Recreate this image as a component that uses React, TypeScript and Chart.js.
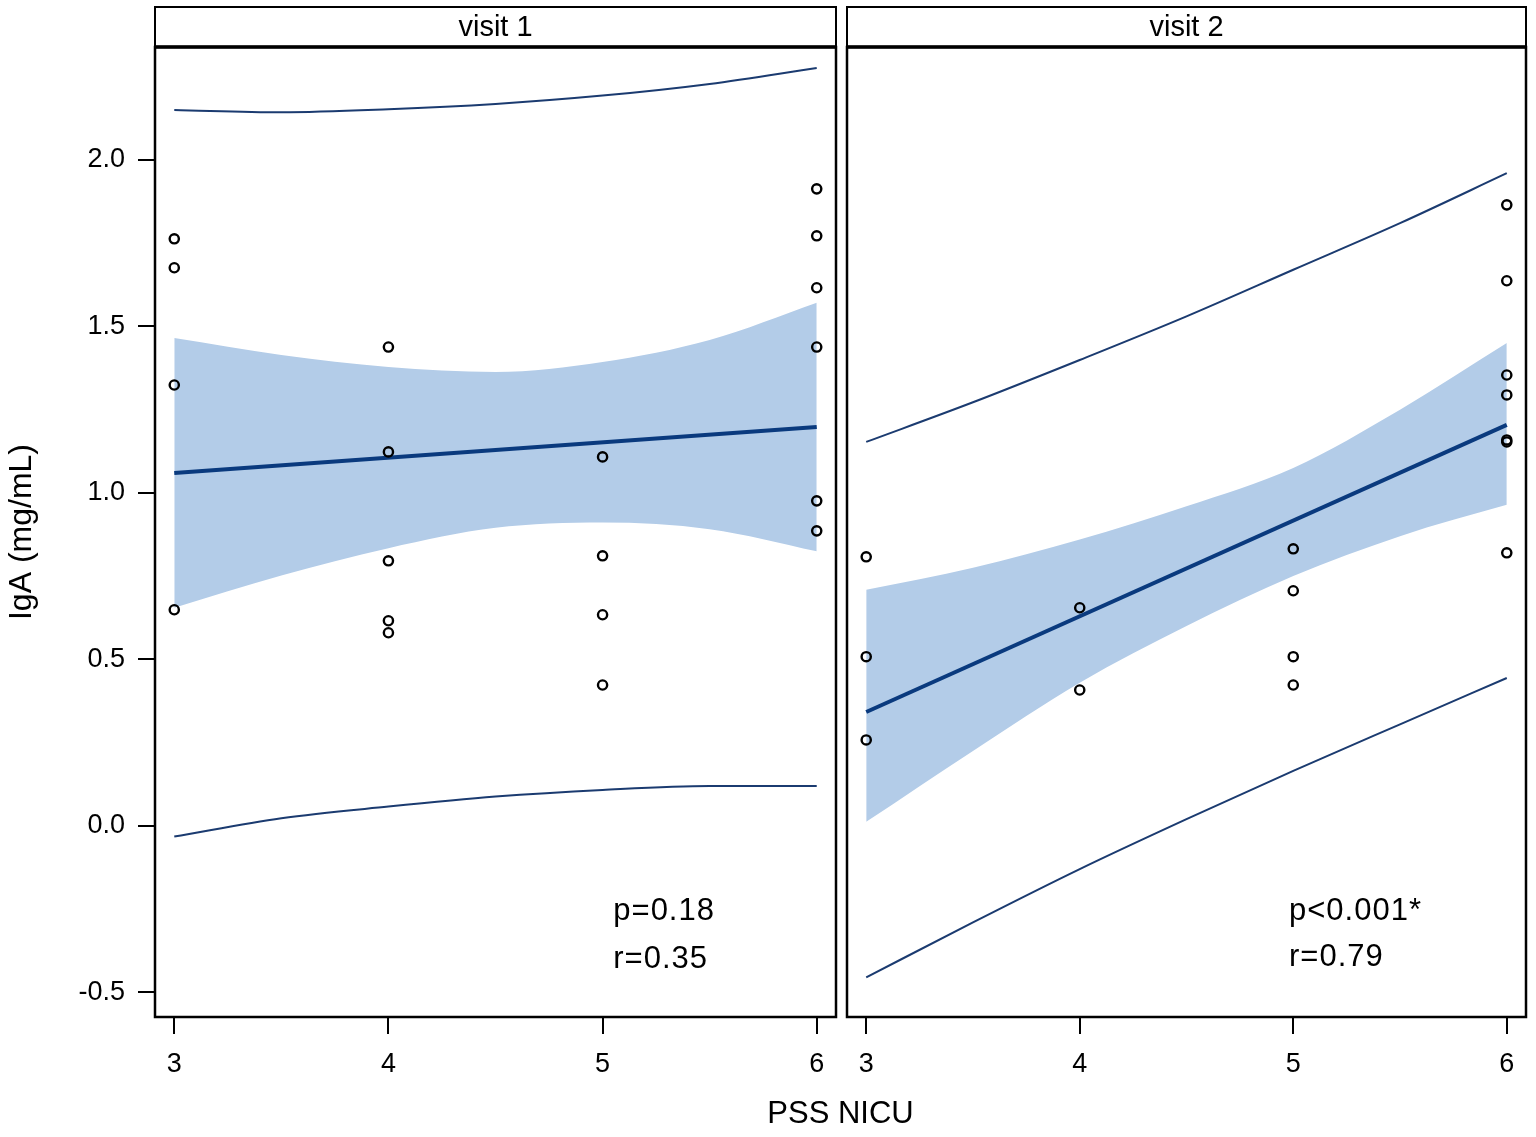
import React, { useEffect, useRef } from "react";
import { Chart, registerables } from "chart.js";

Chart.register(...registerables);

const FONT = "'Liberation Sans', Arial, Helvetica, sans-serif";

// Axes
const xTicks = [3, 4, 5, 6];
const yTicks = [-0.5, 0, 0.5, 1.0, 1.5, 2.0];
const xMin = 2.91;
const xMax = 6.09;
const yMin = -0.574;
const yMax = 2.339;
const yTitle = "IgA (mg/mL)";
const xTitle = "PSS NICU";
const panelTitles = ["visit 1", "visit 2"];

// Observations, visit 1
const v1Score = [3, 3, 3, 3, 4, 4, 4, 4, 4, 5, 5, 5, 5, 6, 6, 6, 6, 6, 6];
const v1IgA = [1.763, 1.676, 1.324, 0.649, 1.438, 1.123, 0.796, 0.616, 0.58, 1.108, 0.811, 0.634, 0.423, 1.913, 1.772, 1.616, 1.438, 0.976, 0.886];

// Observations, visit 2
const v2Score = [3, 3, 3, 4, 4, 5, 5, 5, 5, 6, 6, 6, 6, 6, 6, 6];
const v2IgA = [0.808, 0.508, 0.258, 0.655, 0.408, 0.832, 0.706, 0.508, 0.423, 1.865, 1.637, 1.354, 1.294, 1.159, 1.153, 0.82];

// Fit / confidence / prediction curves (read at these x values)
const curveX = [3, 3.5, 4, 4.5, 5, 5.5, 6];
const fitX = [3, 6];

const v1Fit = [1.06, 1.198];
const v1ClUpper = [1.465, 1.414, 1.378, 1.363, 1.393, 1.459, 1.571];
const v1ClLower = [0.655, 0.752, 0.834, 0.895, 0.911, 0.891, 0.825];
const v1PredUpper = [2.15, 2.143, 2.152, 2.168, 2.193, 2.228, 2.276];
const v1PredLower = [-0.032, 0.023, 0.058, 0.088, 0.108, 0.12, 0.12];

const v2Fit = [0.342, 1.204];
const v2ClUpper = [0.709, 0.775, 0.86, 0.96, 1.075, 1.25, 1.45];
const v2ClLower = [0.012, 0.225, 0.43, 0.6, 0.75, 0.87, 0.964];
const v2PredUpper = [1.153, 1.272, 1.399, 1.53, 1.67, 1.81, 1.96];
const v2PredLower = [-0.455, -0.29, -0.13, 0.02, 0.165, 0.305, 0.444];

// Statistics text
const v1Stats = ["p=0.18", "r=0.35"];
const v2Stats = ["p<0.001*", "r=0.79"];

// Where the stats text sits (data units)
const statsAnchor1 = { x: 5.05, y: [-0.258, -0.402] };
const statsAnchor2 = { x: 4.98, y: [-0.258, -0.396] };

const BAND = "#b3cce8";
const FIT = "#0a3a7e";
const PRED = "#1b3b70";

const zip = (xs: number[], ys: number[]) => xs.map((x, i) => ({ x, y: ys[i] }));

function buildConfig(opts: {
  title: string;
  scores: number[];
  values: number[];
  fit: number[];
  clU: number[];
  clL: number[];
  pU: number[];
  pL: number[];
  stats: string[];
  anchor: { x: number; y: number[] };
  showY: boolean;
  padLeft: number;
  padRight: number;
}): any {
  const panelPlugin = {
    id: "panelFrame" + opts.title.replace(/\s/g, ""),
    afterDraw(chart: any) {
      const { ctx, chartArea } = chart;
      const { left, right, top, bottom } = chartArea;
      ctx.save();
      ctx.strokeStyle = "#000";
      ctx.lineWidth = 2.5;
      ctx.strokeRect(left, top, right - left, bottom - top);
      // strip header
      ctx.lineWidth = 2;
      ctx.strokeRect(left, 7, right - left, top - 7);
      ctx.lineWidth = 3.5;
      ctx.beginPath();
      ctx.moveTo(left, top);
      ctx.lineTo(right, top);
      ctx.stroke();
      ctx.fillStyle = "#000";
      ctx.font = `29px ${FONT}`;
      ctx.textAlign = "center";
      ctx.textBaseline = "middle";
      ctx.fillText(opts.title, (left + right) / 2, 28);
      // stats
      const xs = chart.scales.x;
      const ys = chart.scales.y;
      ctx.font = `31px ${FONT}`;
      try {
        (ctx as any).letterSpacing = "1px";
      } catch (e) {}
      ctx.textAlign = "left";
      opts.stats.forEach((s, i) => {
        ctx.fillText(s, xs.getPixelForValue(opts.anchor.x), ys.getPixelForValue(opts.anchor.y[i]));
      });
      ctx.restore();
    },
  };

  return {
    type: "line",
    data: {
      datasets: [
        {
          label: "obs",
          data: zip(opts.scores, opts.values),
          showLine: false,
          pointRadius: 4.6,
          pointBorderWidth: 2.4,
          pointBorderColor: "#000",
          pointBackgroundColor: "rgba(0,0,0,0)",
        },
        {
          label: "fit",
          data: zip(fitX, opts.fit),
          borderColor: FIT,
          borderWidth: 4,
          pointRadius: 0,
          fill: false,
        },
        {
          label: "predU",
          data: zip(curveX, opts.pU),
          borderColor: PRED,
          borderWidth: 2,
          pointRadius: 0,
          cubicInterpolationMode: "monotone",
          fill: false,
        },
        {
          label: "predL",
          data: zip(curveX, opts.pL),
          borderColor: PRED,
          borderWidth: 2,
          pointRadius: 0,
          cubicInterpolationMode: "monotone",
          fill: false,
        },
        {
          label: "clU",
          data: zip(curveX, opts.clU),
          borderWidth: 0,
          borderColor: "rgba(0,0,0,0)",
          backgroundColor: BAND,
          pointRadius: 0,
          cubicInterpolationMode: "monotone",
          fill: "+1",
        },
        {
          label: "clL",
          data: zip(curveX, opts.clL),
          borderWidth: 0,
          borderColor: "rgba(0,0,0,0)",
          pointRadius: 0,
          cubicInterpolationMode: "monotone",
          fill: false,
        },
      ],
    },
    options: {
      animation: false,
      responsive: true,
      maintainAspectRatio: false,
      layout: { padding: { left: opts.padLeft, right: opts.padRight, top: 47, bottom: 0 } },
      plugins: {
        legend: { display: false },
        tooltip: { enabled: false },
      },
      events: [],
      scales: {
        x: {
          type: "linear",
          min: xMin,
          max: xMax,
          afterBuildTicks: (scale: any) => {
            scale.ticks = xTicks.map((v) => ({ value: v }));
          },
          afterFit: (scale: any) => {
            scale.height = 120;
          },
          ticks: {
            color: "#000",
            font: { family: FONT, size: 27 },
            padding: 14,
            maxRotation: 0,
            autoSkip: false,
            callback: (v: any) => String(v),
          },
          grid: {
            drawOnChartArea: false,
            drawTicks: true,
            tickLength: 17,
            color: "#000",
            lineWidth: 2,
          },
          border: { display: false },
        },
        y: {
          type: "linear",
          display: opts.showY,
          min: yMin,
          max: yMax,
          afterBuildTicks: (scale: any) => {
            scale.ticks = yTicks.map((v) => ({ value: v }));
          },
          afterFit: (scale: any) => {
            if (opts.showY) scale.width = 155;
          },
          ticks: {
            color: "#000",
            font: { family: FONT, size: 27 },
            padding: 13,
            autoSkip: false,
            callback: (v: any) => Number(v).toFixed(1),
          },
          grid: {
            drawOnChartArea: false,
            drawTicks: true,
            tickLength: 17,
            color: "#000",
            lineWidth: 2,
          },
          border: { display: false },
          title: {
            display: true,
            text: yTitle,
            color: "#000",
            font: { family: FONT, size: 32 },
            padding: { top: 3, bottom: 0 },
          },
        },
      },
    },
    plugins: [panelPlugin],
  };
}

export default function App() {
  const ref1 = useRef<HTMLCanvasElement | null>(null);
  const ref2 = useRef<HTMLCanvasElement | null>(null);

  useEffect(() => {
    if (!ref1.current || !ref2.current) return;
    const c1 = new Chart(
      ref1.current,
      buildConfig({
        title: panelTitles[0],
        scores: v1Score,
        values: v1IgA,
        fit: v1Fit,
        clU: v1ClUpper,
        clL: v1ClLower,
        pU: v1PredUpper,
        pL: v1PredLower,
        stats: v1Stats,
        anchor: statsAnchor1,
        showY: true,
        padLeft: 0,
        padRight: 1,
      })
    );
    const c2 = new Chart(
      ref2.current,
      buildConfig({
        title: panelTitles[1],
        scores: v2Score,
        values: v2IgA,
        fit: v2Fit,
        clU: v2ClUpper,
        clL: v2ClLower,
        pU: v2PredUpper,
        pL: v2PredLower,
        stats: v2Stats,
        anchor: statsAnchor2,
        showY: false,
        padLeft: 9,
        padRight: 10,
      })
    );
    return () => {
      c1.destroy();
      c2.destroy();
    };
  }, []);

  return (
    <div
      style={{
        position: "absolute",
        left: 0,
        top: 0,
        width: 1536,
        height: 1137,
        background: "#fff",
        overflow: "hidden",
      }}
    >
      <div style={{ position: "absolute", left: 0, top: 0, width: 843, height: 1137 }}>
        <canvas ref={ref1} />
      </div>
      <div style={{ position: "absolute", left: 838, top: 0, width: 698, height: 1137 }}>
        <canvas ref={ref2} />
      </div>
      <div
        style={{
          position: "absolute",
          left: 640,
          top: 1095,
          width: 401,
          textAlign: "center",
          fontFamily: FONT,
          fontSize: 31,
          lineHeight: "36px",
          color: "#000",
        }}
      >
        {xTitle}
      </div>
    </div>
  );
}
